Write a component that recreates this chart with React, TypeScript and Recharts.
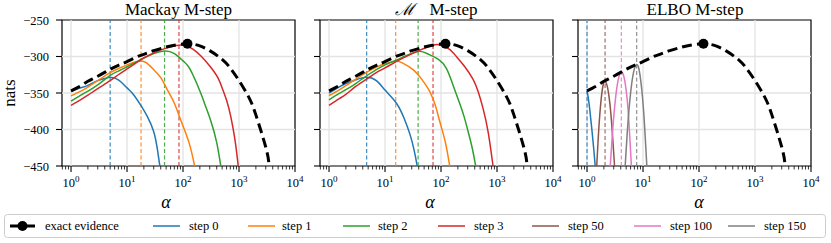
import React from "react";
import { LineChart, Line, XAxis, YAxis, ReferenceLine, ReferenceArea, ReferenceDot } from "recharts";

type Pt = [number, number];

// exact log evidence (nats) against alpha
const EVIDENCE: Pt[] = [[1, -347], [1.5, -340], [2, -334], [3, -327], [5, -317.5], [7, -312], [10, -307], [15, -300.5], [20, -297], [30, -292], [50, -287], [70, -284.5], [100, -283], [120, -282.5], [150, -283], [200, -285.5], [300, -292], [500, -304], [700, -316], [1000, -333], [1500, -356], [2000, -380], [3000, -424], [3400, -445]];
const EVIDENCE_MAX: Pt = [120, -282.5];

// Mackay M-step
const MACKAY_STEP0: Pt[] = [[1, -348], [1.5, -343], [2, -339.5], [3, -333], [4, -330], [5, -328.5], [7, -332], [10, -343], [13, -352], [18, -368], [23, -382], [30, -403], [35, -428], [38.5, -450], [42, -472]];
const MACKAY_STEP1: Pt[] = [[1, -354], [1.5, -347.5], [2, -342], [3, -333], [5, -322], [7, -316.5], [10, -311.5], [14, -307.5], [17.8, -306], [22, -308.5], [30, -318], [40, -329], [52, -345], [70, -364], [91, -387], [128, -418], [161, -450], [175, -465]];
const MACKAY_STEP2: Pt[] = [[1, -361], [1.5, -353], [2, -347.5], [3, -339], [5, -326], [7, -320], [10, -314], [15, -307], [20, -302], [30, -296], [46.8, -292.5], [70, -296], [100, -306], [120, -312], [150, -325], [207, -350], [250, -367], [316, -389], [400, -418], [473, -450], [520, -468]];
const MACKAY_STEP3: Pt[] = [[1, -367], [1.5, -359], [2, -353], [3, -344], [5, -333], [7, -325], [10, -317], [15, -308], [20, -302], [30, -295], [50, -288.5], [84.7, -284.5], [120, -286], [150, -290], [207, -299], [300, -313], [412, -328], [500, -343], [600, -360], [712, -382], [850, -415], [970, -450], [1050, -470]];
const MACKAY_ARGMAX = [5.0, 17.8, 46.8, 84.7];

// M M-step
const MSTEP_STEP0: Pt[] = [[1, -350], [1.5, -342], [2, -337], [3, -332], [4.6, -328.5], [7, -333], [10, -346], [16, -364], [22, -385], [28, -407], [33, -428], [37.5, -450], [41, -470]];
const MSTEP_STEP1: Pt[] = [[1, -353.5], [1.5, -346], [2, -340], [3, -331], [5, -320.5], [7, -314.5], [10, -310], [15.5, -306.6], [20, -308.5], [31.6, -318], [45, -331], [63, -348], [80, -368], [95, -389], [120, -418], [143, -450], [160, -470]];
const MSTEP_STEP2: Pt[] = [[1, -359.5], [1.5, -351], [2, -345.5], [3, -337], [5, -325], [7, -318], [10, -311.5], [20, -301.5], [39, -293], [60, -297], [90, -304], [124, -316], [160, -337], [215, -364], [260, -383], [303, -402], [360, -425], [416, -450], [460, -468]];
const MSTEP_STEP3: Pt[] = [[1, -367], [1.5, -358], [2, -352], [3, -341], [5, -329.5], [7, -322], [10, -315.5], [20, -303], [40, -292], [72, -284.5], [100, -284.5], [140, -290], [188, -300], [260, -313], [372, -331], [460, -348], [563, -371], [700, -405], [850, -450], [930, -470]];
const MSTEP_ARGMAX = [4.7, 15.5, 39, 72];

// ELBO M-step
const ELBO_STEP0: Pt[] = [[1, -347], [1.05, -356], [1.12, -373], [1.22, -400], [1.32, -427], [1.4, -450], [1.44, -462]];
const ELBO_STEP50: Pt[] = [[1.46, -465], [1.49, -450], [1.62, -400], [1.78, -360], [1.94, -339], [2.1, -334], [2.3, -341], [2.5, -358], [2.75, -391], [3.1, -450], [3.18, -465]];
const ELBO_STEP100: Pt[] = [[2.52, -465], [2.6, -450], [2.88, -400], [3.2, -360], [3.6, -332], [4.1, -321.5], [4.6, -329], [5.1, -352], [5.6, -390], [6.2, -450], [6.4, -465]];
const ELBO_STEP150: Pt[] = [[4.65, -465], [4.8, -450], [5.3, -398], [6.0, -350], [6.8, -321], [7.7, -311], [8.6, -320], [9.6, -349], [10.6, -392], [11.7, -450], [12.1, -465]];
const ELBO_ARGMAX = [1.0, 2.1, 4.1, 7.7];

const STEP_NAMES = ["step 0", "step 1", "step 2", "step 3", "step 50", "step 100", "step 150"];
const STEP_COLORS = ["#1f77b4", "#ff7f0e", "#2ca02c", "#d62728", "#8c564b", "#e377c2", "#7f7f7f"];

const X_DOMAIN: [number, number] = [0.69, 10000];
const X_MAJOR = [1, 10, 100, 1000, 10000];
const X_MINOR = [0.7, 0.8, 0.9, 2, 3, 4, 5, 6, 7, 8, 9, 20, 30, 40, 50, 60, 70, 80, 90, 200, 300, 400, 500, 600, 700, 800, 900, 2000, 3000, 4000, 5000, 6000, 7000, 8000, 9000];
const Y_TICKS = [-450, -400, -350, -300, -250];
const Y_GRID = [-400, -350, -300];

const PANELS = [
  { title: "Mackay M-step", series: [MACKAY_STEP0, MACKAY_STEP1, MACKAY_STEP2, MACKAY_STEP3], colors: [0, 1, 2, 3], argmax: MACKAY_ARGMAX },
  { title: "M-step", series: [MSTEP_STEP0, MSTEP_STEP1, MSTEP_STEP2, MSTEP_STEP3], colors: [0, 1, 2, 3], argmax: MSTEP_ARGMAX },
  { title: "ELBO M-step", series: [ELBO_STEP0, ELBO_STEP50, ELBO_STEP100, ELBO_STEP150], colors: [0, 4, 5, 6], argmax: ELBO_ARGMAX },
];

const FONT = "'Liberation Serif', 'DejaVu Serif', serif";
const CHART_LEFT = [17, 275, 533];
const TITLE_X = [178.5, 436.5, 695];
const ALPHA_X = [166, 430, 699];

const rows = (pts: Pt[]) => pts.map(([a, n]) => ({ a, n }));

function XTick(props: any) {
  const { x, y, payload } = props;
  const v = payload.value;
  const major = X_MAJOR.includes(v);
  return (
    <g>
      <line x1={x} x2={x} y1={y} y2={y + (major ? 6 : 3.5)} stroke="#000" strokeWidth={major ? 1.1 : 0.8} />
      {major && (
        <text x={x} y={y + 21} textAnchor="middle" fontSize={12.5} fontFamily={FONT} fill="#000">
          10<tspan dy={-5.5} fontSize={9}>{Math.round(Math.log10(v))}</tspan>
        </text>
      )}
    </g>
  );
}

function YTick(props: any) {
  const { x, y, payload, showLabel } = props;
  return (
    <g>
      <line x1={x - 6} x2={x} y1={y} y2={y} stroke="#000" strokeWidth={1.1} />
      {showLabel && (
        <text x={x - 13} y={y + 4.5} textAnchor="end" fontSize={12.5} fontFamily={FONT} fill="#000">
          {"\u2212" + Math.abs(payload.value)}
        </text>
      )}
    </g>
  );
}

function Panel({ idx }: { idx: number }) {
  const p = PANELS[idx];
  return (
    <div style={{ position: "absolute", left: CHART_LEFT[idx], top: 0 }}>
      <LineChart width={288} height={200} margin={{ top: 20, right: 10, bottom: 0, left: 0 }}>
        <XAxis dataKey="a" type="number" scale="log" domain={X_DOMAIN} allowDataOverflow ticks={[...X_MAJOR, ...X_MINOR]} interval={0} tickLine={false} axisLine={false} tickSize={0} tickMargin={0} height={34} tick={(t: any) => <XTick {...t} />} />
        <YAxis type="number" domain={[-450, -250]} allowDataOverflow ticks={Y_TICKS} interval={0} tickLine={false} axisLine={false} tickSize={0} tickMargin={0} width={45} tick={(t: any) => <YTick {...t} showLabel={idx === 0} />} />
        {X_MAJOR.slice(0, 4).map((v) => (
          <ReferenceLine key={"gx" + v} x={v} stroke="#e3e3e3" strokeWidth={1.3} />
        ))}
        {Y_GRID.map((v) => (
          <ReferenceLine key={"gy" + v} y={v} stroke="#e3e3e3" strokeWidth={1.3} />
        ))}
        {p.argmax.map((a, i) => (
          <ReferenceLine key={"am" + i} x={a} stroke={STEP_COLORS[p.colors[i]]} strokeOpacity={0.85} strokeWidth={1.2} strokeDasharray="4 2.5" />
        ))}
        {p.series.map((s, i) => (
          <Line key={"s" + i} data={rows(s)} dataKey="n" type="natural" stroke={STEP_COLORS[p.colors[i]]} strokeWidth={1.5} dot={false} activeDot={false} isAnimationActive={false} />
        ))}
        <Line data={rows(EVIDENCE)} dataKey="n" type="natural" stroke="#000" strokeWidth={3} strokeDasharray="10 5" dot={false} activeDot={false} isAnimationActive={false} />
        <ReferenceDot x={EVIDENCE_MAX[0]} y={EVIDENCE_MAX[1]} r={5} fill="#000" stroke="none" />
        <ReferenceArea x1={X_DOMAIN[0]} x2={X_DOMAIN[1]} y1={-450} y2={-250} fill="none" fillOpacity={0} stroke="#000" strokeWidth={1.2} />
      </LineChart>
    </div>
  );
}

const LEGEND_LINE_X = [10, 153, 248, 343, 438, 532, 634, 728];
const LEGEND_TEXT_X = [45, 189, 282, 378, 474, 568, 670, 764];

export default function App() {
  return (
    <div style={{ position: "absolute", left: 0, top: 0, width: 831, height: 243, background: "#fff", fontFamily: FONT }}>
      {PANELS.map((_, i) => (
        <Panel key={i} idx={i} />
      ))}
      <svg width={831} height={243} style={{ position: "absolute", left: 0, top: 0, pointerEvents: "none" }}>
        {PANELS.map((p, i) => (
          <text key={"t" + i} x={TITLE_X[i]} y={15} textAnchor="middle" fontSize={17} fontFamily={FONT} fill="#000">
            {i === 1 && <tspan fontStyle="italic">{"\u2133"}</tspan>}
            <tspan dx={i === 1 ? 14 : 0}>{p.title}</tspan>
          </text>
        ))}
        {ALPHA_X.map((x, i) => (
          <text key={"a" + i} x={x} y={208} textAnchor="middle" fontSize={18} fontStyle="italic" fontFamily={FONT} fill="#000">
            α
          </text>
        ))}
        <text x={0} y={0} transform="translate(15 93) rotate(-90)" textAnchor="middle" fontSize={17} fontFamily={FONT} fill="#000">
          nats
        </text>
        <rect x={4.5} y={214.5} width={821} height={23} rx={3} fill="#fff" stroke="#cccccc" strokeWidth={1} />
        <line x1={LEGEND_LINE_X[0]} x2={LEGEND_LINE_X[0] + 25} y1={226} y2={226} stroke="#000" strokeWidth={3} strokeDasharray="10 5" />
        <circle cx={LEGEND_LINE_X[0] + 12.5} cy={226} r={5} fill="#000" />
        <text x={LEGEND_TEXT_X[0]} y={230} fontSize={12.5} fontFamily={FONT} fill="#000">exact evidence</text>
        {STEP_NAMES.map((name, i) => (
          <g key={"l" + i}>
            <line x1={LEGEND_LINE_X[i + 1]} x2={LEGEND_LINE_X[i + 1] + 27} y1={226} y2={226} stroke={STEP_COLORS[i]} strokeWidth={1.5} />
            <text x={LEGEND_TEXT_X[i + 1]} y={230} fontSize={12.5} fontFamily={FONT} fill="#000">{name}</text>
          </g>
        ))}
      </svg>
    </div>
  );
}
